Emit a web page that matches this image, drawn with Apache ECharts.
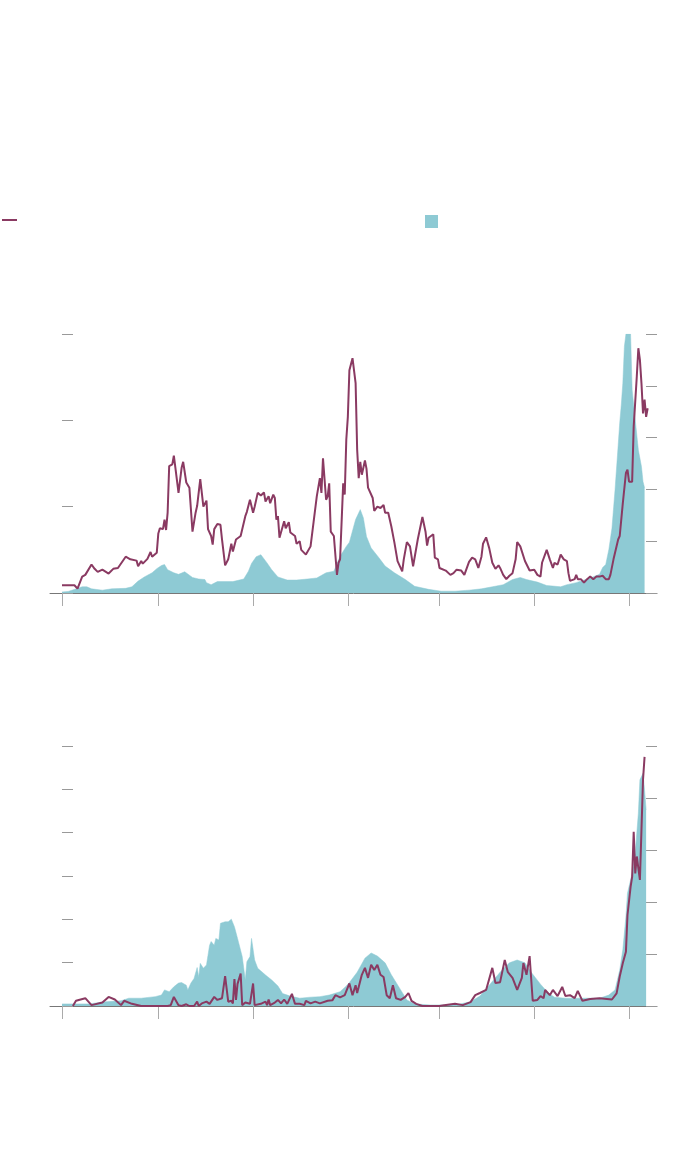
<!DOCTYPE html>
<html>
<head>
<meta charset="utf-8">
<script src="https://cdn.jsdelivr.net/npm/echarts@6/dist/echarts.min.js"></script>
<style>
html,body{margin:0;padding:0;background:#fff;}
#chart{width:700px;height:1159px;}
</style>
</head>
<body>
<div id="chart"></div>
<script>
// x values are day offsets from the first x tick
const xTickDays = [0, 62, 123, 184, 243, 304, 365];

// Top panel: line (left axis) and area (right axis)
const topLine = [[0,0.9],[8,0.9],[10,0.5],[13,1.9],[15,2.1],[19,3.3],[21,2.8],[23,2.45],[26,2.7],[30,2.25],[33,2.8],[36,2.9],[41,4.2],[44,3.9],[48,3.75],[49,3.1],[51,3.7],[52,3.4],[55,3.95],[57,4.75],[58,4.2],[61,4.65],[62,6.9],[63,7.5],[65,7.4],[66,8.5],[67,7.3],[68,9.3],[69,14.7],[71,14.9],[72,15.9],[73,14.5],[75,11.6],[77,14.5],[78,15.2],[80,12.8],[82,12.2],[84,7.1],[86,9.3],[87,10.1],[88,9.9],[89,13.2],[90,13.1],[91,10.0],[93,10.7],[94,7.4],[96,6.6],[97,5.6],[98,7.4],[100,8.0],[102,7.9],[103,6.2],[105,3.2],[107,3.9],[109,5.7],[110,4.8],[112,6.2],[115,6.6],[116,6.6],[118,8.9],[119,9.4],[121,10.8],[123,9.3],[124,10.0],[126,11.6],[128,11.3],[130,11.65],[131,10.6],[133,11.2],[134,10.4],[136,11.4],[137,11.0],[138,8.5],[139,8.9],[140,6.4],[141,6.4],[143,8.3],[144,7.5],[146,8.2],[147,7.0],[150,6.6],[151,5.7],[153,6.0],[154,5.0],[155,5.2],[157,4.45],[160,5.4],[161,5.5],[164,11.2],[166,13.3],[167,11.6],[168,15.6],[170,10.8],[171,11.2],[172,12.7],[173,7.1],[175,6.6],[177,2.1],[178,3.5],[179,3.9],[181,12.7],[182,11.4],[183,17.75],[184,20.4],[185,25.8],[186,25.6],[187,27.2],[189,24.3],[190,16.6],[191,13.3],[192,15.2],[193,13.7],[195,15.35],[196,14.4],[197,12.2],[198,12.35],[200,11.0],[201,9.5],[203,10.0],[205,9.85],[207,10.2],[208,9.3],[210,9.3],[212,7.7],[214,5.8],[216,3.7],[219,2.5],[220,3.9],[222,5.9],[224,5.4],[226,3.1],[227,2.9],[229,6.2],[232,8.8],[234,7.1],[235,5.5],[236,6.4],[237,6.2],[239,6.8],[240,4.1],[242,3.9],[243,2.9],[247,2.6],[250,2.1],[252,2.3],[254,2.7],[257,2.6],[259,2.1],[262,3.6],[264,4.1],[266,3.9],[268,2.9],[270,4.2],[271,5.7],[273,6.45],[275,5.2],[277,3.5],[279,2.8],[281,3.2],[282,2.9],[284,2.1],[286,1.6],[288,2.0],[290,2.3],[292,3.9],[293,5.9],[295,5.4],[296,5.2],[298,3.7],[299,3.6],[301,2.6],[302,2.8],[304,2.7],[306,2.1],[308,1.9],[309,3.5],[312,5.0],[314,3.9],[316,2.9],[317,3.5],[319,3.3],[320,3.1],[321,4.45],[323,3.9],[325,3.7],[326,2.3],[327,1.4],[328,1.6],[330,1.6],[331,2.1],[332,1.6],[334,1.6],[336,1.2],[338,1.6],[340,1.9],[342,1.6],[344,1.9],[346,1.9],[348,2.0],[350,1.6],[352,1.6],[353,2.1],[355,3.9],[358,6.2],[359,6.6],[361,10.4],[363,13.9],[364,14.3],[365,12.9],[367,12.9],[368,19.3],[370,25.1],[371,28.35],[372,27.0],[373,24.3],[374,20.8],[375,22.4],[376,20.4],[377,21.4]];

const topArea = [[0,0.2],[4,0.3],[13,1.2],[16,1.2],[19,0.8],[26,0.55],[32,0.8],[41,0.9],[45,1.2],[49,2.3],[53,3.1],[58,3.9],[61,4.7],[64,5.3],[66,5.5],[68,4.5],[72,3.9],[75,3.6],[79,4.1],[84,3.0],[88,2.7],[92,2.6],[93,2.0],[96,1.6],[100,2.2],[110,2.2],[117,2.7],[120,4.2],[122,5.7],[125,7.0],[128,7.4],[132,5.8],[135,4.5],[139,3.1],[145,2.5],[151,2.5],[158,2.7],[164,2.9],[170,3.9],[175,4.2],[179,7.1],[183,9.0],[185,9.8],[189,14.2],[192,16.1],[194,14.5],[196,10.9],[199,8.7],[204,6.8],[208,5.2],[214,3.9],[221,2.6],[227,1.3],[236,0.7],[244,0.35],[253,0.35],[262,0.55],[270,0.8],[277,1.2],[284,1.6],[290,2.6],[295,3.0],[299,2.6],[306,2.1],[312,1.45],[321,1.2],[325,1.6],[331,2.0],[340,2.9],[346,3.6],[348,4.9],[350,5.5],[352,8.4],[354,12.5],[356,20],[358,28.5],[359,32.8],[360,36.3],[361,40.5],[362,47.6],[363,50],[366,50],[367,39.2],[369,33.4],[371,27.6],[373,24.4],[374,21.5],[375,20.3]];

// Bottom panel
const bottomLine = [[7,0],[9,1.2],[15,1.8],[19,0.2],[26,0.8],[30,2.1],[34,1.5],[38,0.2],[40,1.2],[45,0.5],[51,0],[68,0],[70,0.2],[72,2.1],[75,0.2],[77,0],[80,0.4],[82,0],[85,0],[87,1.0],[88,0],[90,0.6],[93,1.0],[95,0.5],[98,2.1],[100,1.4],[101,1.8],[103,1.8],[105,6.9],[107,1.0],[109,1.2],[110,0.6],[111,6.2],[112,1.4],[113,5.1],[115,7.5],[116,0.2],[118,0.8],[121,0.5],[123,5.2],[124,0.2],[128,0.5],[131,1.0],[132,0.2],[133,1.5],[134,0.2],[137,0.8],[139,1.4],[141,0.6],[143,1.5],[145,0.5],[148,2.8],[150,0.5],[153,0.5],[156,0.2],[157,1.2],[160,0.6],[163,1.0],[166,0.6],[171,1.2],[174,1.3],[176,2.5],[179,2.0],[182,2.5],[185,5.2],[187,2.5],[189,4.8],[190,3.0],[193,7.2],[195,8.8],[197,6.5],[199,9.5],[201,8.3],[203,9.5],[205,7.2],[207,6.7],[209,2.5],[211,1.8],[213,4.8],[215,1.8],[218,1.4],[221,2.1],[223,3.0],[225,1.2],[228,0.5],[232,0],[243,0],[246,0.2],[253,0.5],[258,0.2],[263,0.9],[266,2.5],[269,3.0],[273,3.7],[277,8.8],[279,5.3],[282,5.5],[285,10.6],[287,7.8],[290,6.5],[293,3.7],[296,6.5],[297,9.9],[299,7.2],[301,11.5],[303,1.2],[306,1.4],[308,2.3],[310,1.8],[311,3.7],[314,2.5],[316,3.7],[319,2.3],[322,4.4],[324,2.3],[327,2.5],[330,1.8],[332,3.5],[335,1.2],[340,1.6],[346,1.8],[354,1.5],[357,2.9],[359,6.8],[361,9.9],[363,12.5],[364,21.0],[366,27.5],[367,29.8],[368,40.2],[369,30.6],[370,34.5],[372,29.1],[373,40.6],[374,52.2],[375,57.5]];

const bottomArea = [[0,0.4],[17,0.4],[28,0.8],[38,1.0],[43,1.5],[51,1.5],[60,1.8],[64,2.1],[66,3.1],[69,2.75],[72,3.7],[75,4.4],[77,4.5],[80,4.0],[81,3.1],[83,4.4],[85,5.3],[87,7.4],[88,5.6],[89,8.2],[91,7.25],[93,7.9],[95,11.7],[96,12.4],[98,11.7],[99,13.0],[101,12.7],[102,15.9],[105,16.2],[107,16.2],[109,16.7],[111,15.25],[113,13.0],[116,9.5],[118,5.0],[119,8.5],[121,9.5],[122,13.0],[124,8.85],[126,7.25],[131,5.96],[135,5.0],[139,3.85],[142,2.4],[147,1.9],[153,1.5],[160,1.7],[166,1.8],[172,2.1],[179,2.75],[183,3.85],[185,4.5],[190,6.5],[195,9.2],[199,10.2],[203,9.6],[208,8.3],[212,6.0],[218,3.1],[222,1.15],[227,0.4],[237,0.2],[253,0.2],[263,0.8],[269,1.9],[275,4.0],[282,6.5],[288,8.3],[293,8.85],[298,8.3],[302,6.5],[308,4.2],[313,2.5],[317,1.7],[324,1.5],[333,1.5],[346,1.5],[352,2.1],[356,3.1],[359,6.9],[361,10.8],[363,17.2],[364,21.7],[367,25.5],[369,29.4],[371,37.1],[372,43.5],[374,44.75],[375,41.5],[376,37.7]];

const PURPLE = '#8a3a62';
const TEAL = '#8ecad4';

const chart = echarts.init(document.getElementById('chart'), null, {renderer: 'canvas'});

function xAxisFor(gi) {
  return {
    type: 'value', gridIndex: gi, min: -7.72, max: 383,
    axisLine: {show: true, lineStyle: {color: '#777', width: 1}},
    axisTick: {show: true, customValues: xTickDays, length: 13, inside: false, lineStyle: {color: '#aaa', width: 1}},
    axisLabel: {show: false},
    splitLine: {show: false}
  };
}
function yAxisFor(gi, pos, max) {
  return {
    type: 'value', gridIndex: gi, position: pos, min: 0, max: max, interval: 10,
    axisLine: {show: false},
    axisTick: {show: true, inside: true, length: 11, lineStyle: {color: '#999', width: 1}},
    axisLabel: {show: false},
    splitLine: {show: false}
  };
}

chart.setOption({
  animation: false,
  legend: [
    {data: ['Line'], left: 2, top: 220 - 1, icon: 'rect', itemWidth: 15, itemHeight: 2, formatter: () => '', selectedMode: false, padding: 0},
    {data: ['Area'], left: 425, top: 215, icon: 'rect', itemWidth: 13, itemHeight: 13, formatter: () => '', selectedMode: false, padding: 0}
  ],
  grid: [
    {left: 50, right: 43, top: 334, height: 259},
    {left: 50, right: 43, top: 746, height: 260}
  ],
  xAxis: [xAxisFor(0), xAxisFor(1)],
  yAxis: [yAxisFor(0, 'left', 30), yAxisFor(0, 'right', 50), yAxisFor(1, 'left', 60), yAxisFor(1, 'right', 50)],
  series: [
    {name: 'Area', type: 'line', xAxisIndex: 0, yAxisIndex: 1, data: topArea, showSymbol: false,
     itemStyle: {color: TEAL}, lineStyle: {color: TEAL, width: 0.5}, areaStyle: {color: TEAL, opacity: 1}, z: 1},
    {name: 'Line', type: 'line', xAxisIndex: 0, yAxisIndex: 0, data: topLine, showSymbol: false,
     itemStyle: {color: PURPLE}, lineStyle: {color: PURPLE, width: 2}, z: 3},
    {name: 'Area', type: 'line', xAxisIndex: 1, yAxisIndex: 3, data: bottomArea, showSymbol: false,
     itemStyle: {color: TEAL}, lineStyle: {color: TEAL, width: 0.5}, areaStyle: {color: TEAL, opacity: 1}, z: 1},
    {name: 'Line', type: 'line', xAxisIndex: 1, yAxisIndex: 2, data: bottomLine, showSymbol: false,
     itemStyle: {color: PURPLE}, lineStyle: {color: PURPLE, width: 2}, z: 3}
  ]
});
</script>
</body>
</html>
